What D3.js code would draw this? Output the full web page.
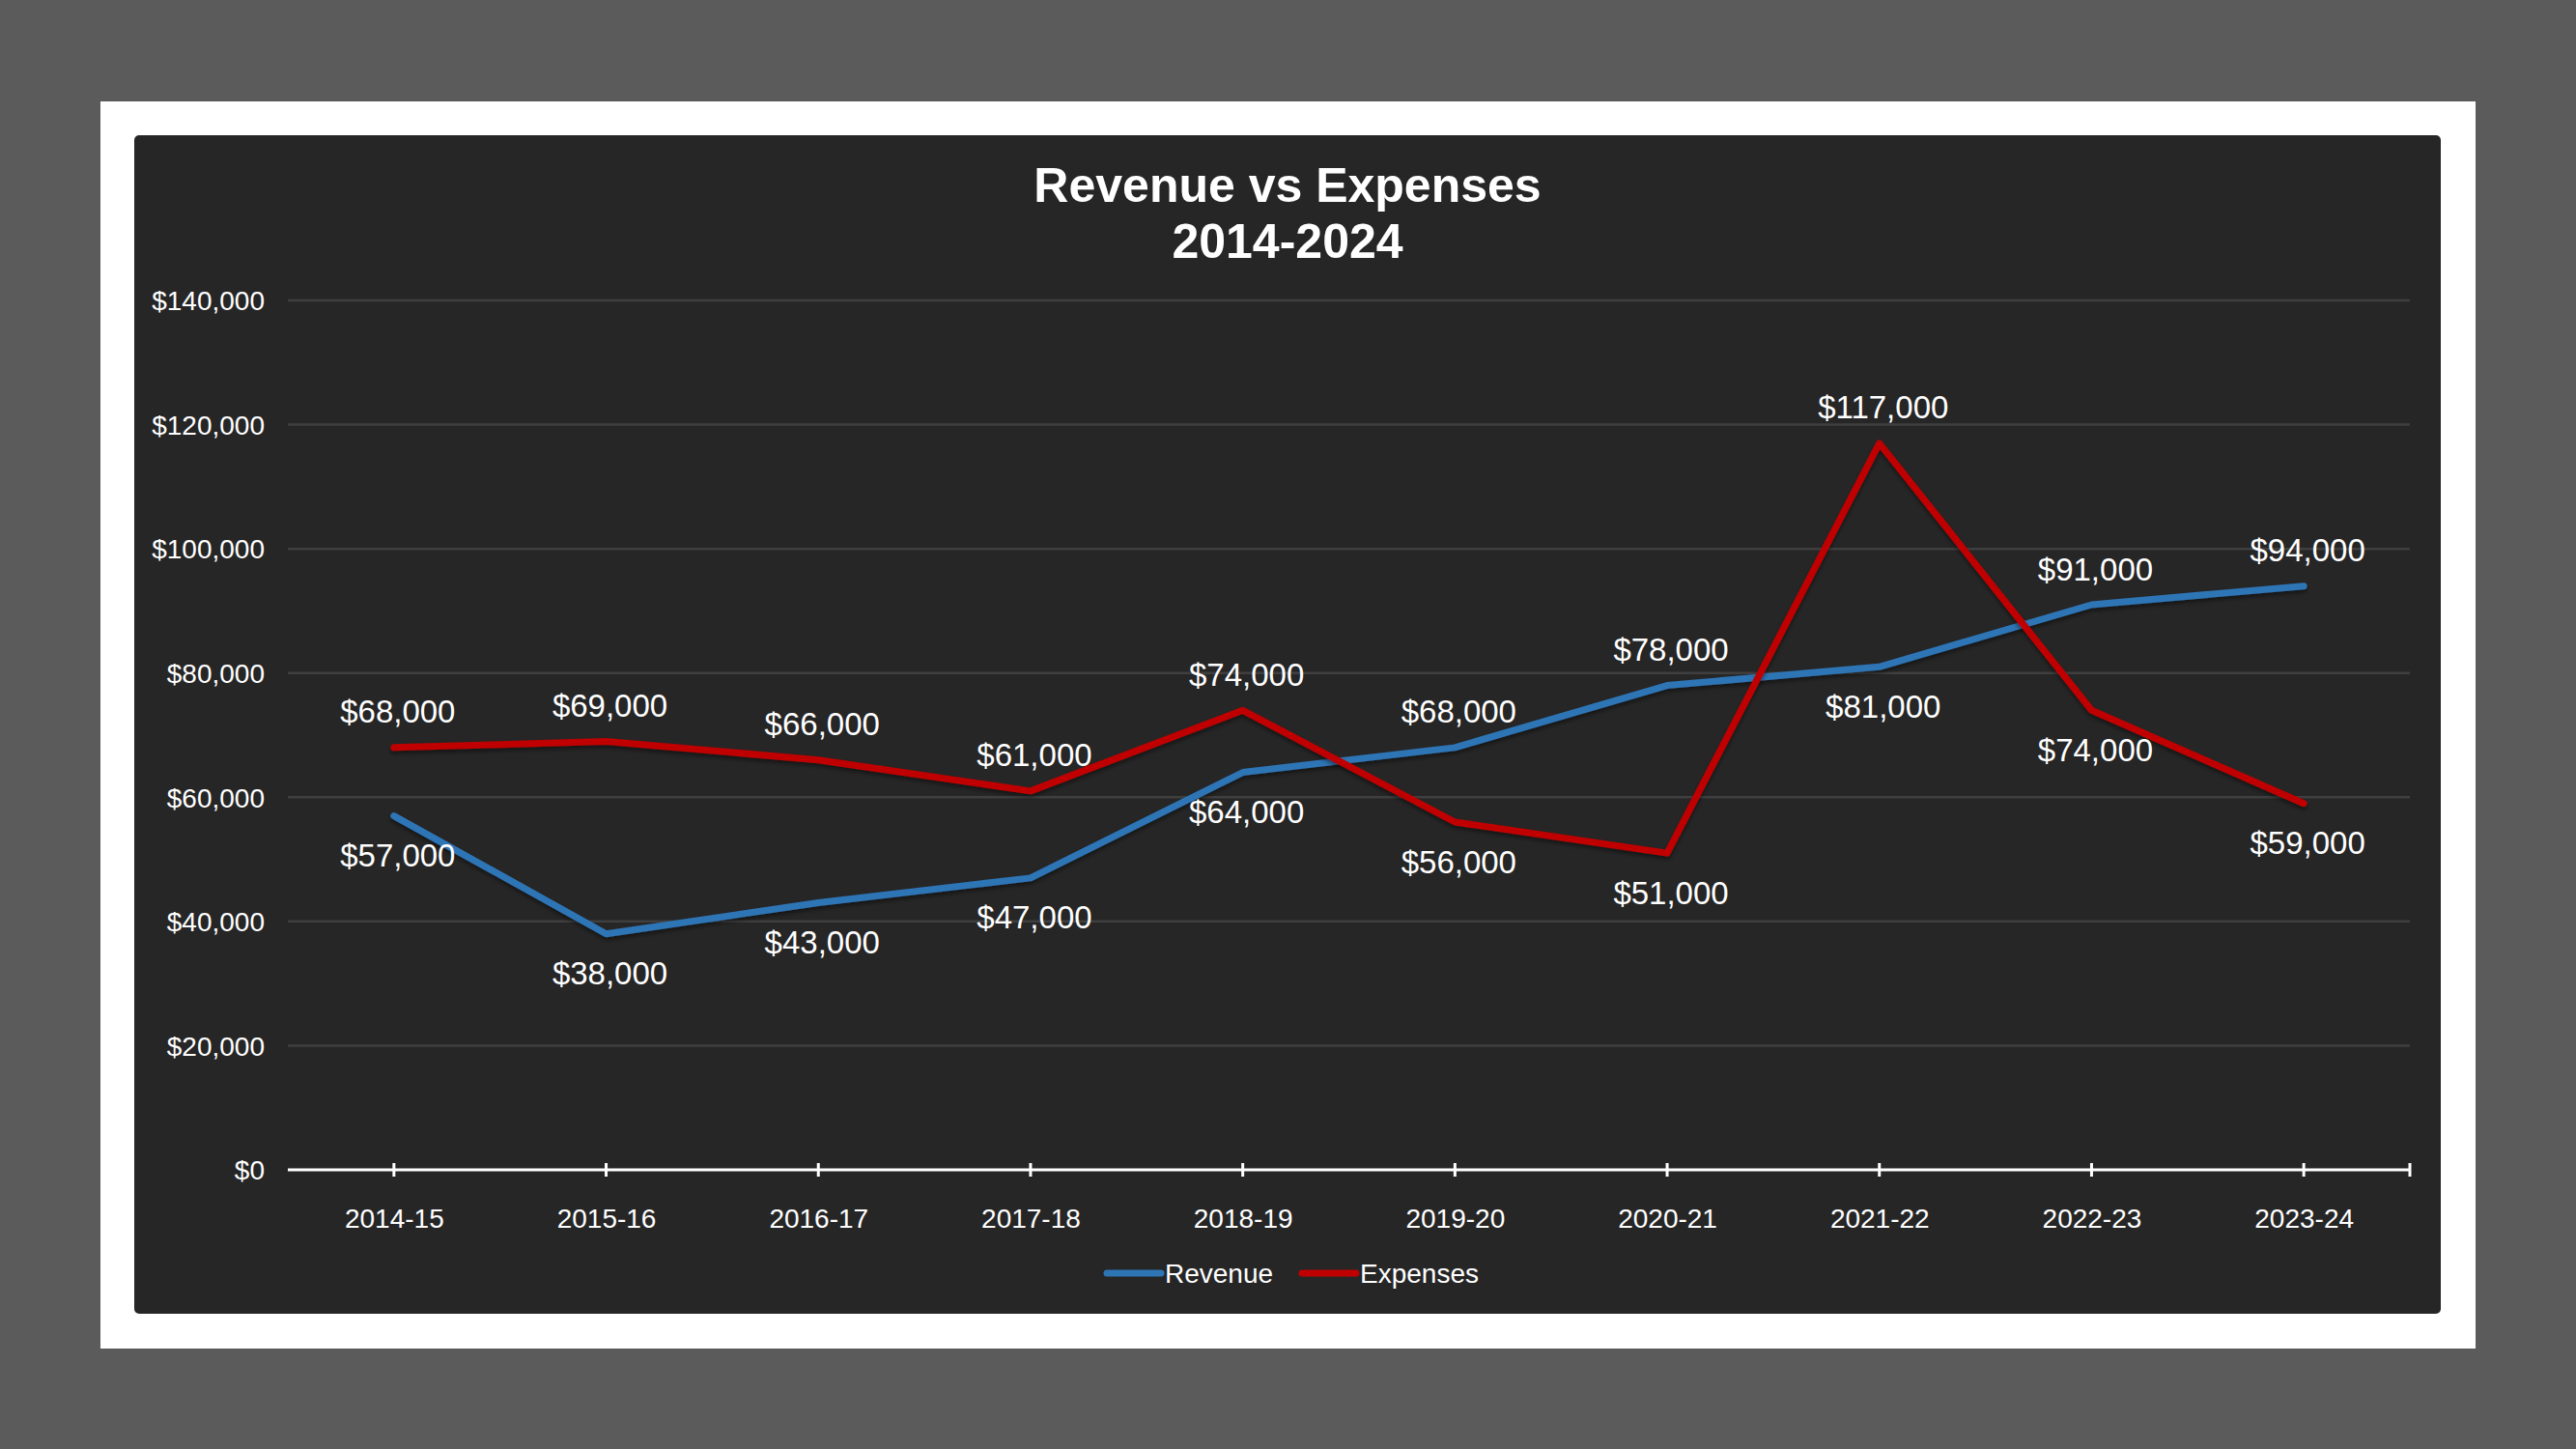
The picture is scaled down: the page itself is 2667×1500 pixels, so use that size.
<!DOCTYPE html>
<html><head><meta charset="utf-8">
<script src="https://cdn.jsdelivr.net/npm/d3@7"></script>
<style>
html,body{margin:0;padding:0;background:#5b5b5b;}
svg{display:block;font-family:"Liberation Sans",Arial,sans-serif;}
</style></head>
<body>
<svg id="c" width="2667" height="1500"></svg>
<script>
const categories = ["2014-15","2015-16","2016-17","2017-18","2018-19","2019-20","2020-21","2021-22","2022-23","2023-24"];
const revenue = [57000,38000,43000,47000,64000,68000,78000,81000,91000,94000];
const expenses = [68000,69000,66000,61000,74000,56000,51000,117000,74000,59000];
const yTicks = [0,20000,40000,60000,80000,100000,120000,140000];
const titleLines = ["Revenue vs Expenses","2014-2024"];
const seriesNames = ["Revenue","Expenses"];
const seriesColors = ["#2e75b6","#c00000"];

const svg = d3.select("#c");
svg.append("rect").attr("width",2667).attr("height",1500).attr("fill","#5b5b5b");
svg.append("rect").attr("x",104).attr("y",105).attr("width",2459).attr("height",1291).attr("fill","#ffffff");
svg.append("rect").attr("x",139).attr("y",140).attr("width",2388).attr("height",1220).attr("rx",5).attr("fill","#262626");

const defs = svg.append("defs");
const f = defs.append("filter").attr("id","sh").attr("x","-5%").attr("y","-5%").attr("width","110%").attr("height","120%");
f.append("feDropShadow").attr("dx",0).attr("dy",3).attr("stdDeviation",2).attr("flood-color","#000").attr("flood-opacity",0.45);

// title
svg.append("text").attr("x",1333).attr("text-anchor","middle").attr("fill","#fff")
  .attr("font-weight","bold").attr("font-size",50)
  .selectAll("tspan").data(titleLines).join("tspan")
  .attr("x",1333).attr("y",(d,i)=>209+i*58).text(d=>d);

const x0 = 298, x1 = 2495, yTop = 311, yBot = 1211;
const x = d3.scalePoint().domain(categories).range([x0,x1]).padding(0.5);
const y = d3.scaleLinear().domain([0,140000]).range([yBot,yTop]);
const fmt = v => "$" + d3.format(",")(v);

// gridlines
svg.append("g").selectAll("line").data(yTicks.filter(t=>t>0)).join("line")
  .attr("x1",x0).attr("x2",x1).attr("y1",d=>y(d)).attr("y2",d=>y(d))
  .attr("stroke","#3f3f3f").attr("stroke-width",2.5);

// y axis labels
const yAxis = d3.axisLeft(y).tickValues(yTicks).tickFormat(fmt).tickSize(0).tickPadding(0);
const gy = svg.append("g").attr("transform",`translate(274,0)`).call(yAxis);
gy.select(".domain").remove();
gy.selectAll("text").attr("fill","#ffffff").attr("font-size",28).attr("font-family","Liberation Sans, Arial, sans-serif").attr("dy","0.35em");

// x axis
const xAxis = d3.axisBottom(x).tickSize(0).tickPadding(0);
const gx = svg.append("g").attr("transform",`translate(0,${yBot})`).call(xAxis);
gx.select(".domain").remove();
gx.selectAll("text").attr("fill","#ffffff").attr("font-size",28).attr("font-family","Liberation Sans, Arial, sans-serif").attr("y",50).attr("dy","0.35em");
svg.append("line").attr("x1",x0).attr("x2",x1).attr("y1",yBot).attr("y2",yBot).attr("stroke","#ffffff").attr("stroke-width",3);
const tickXs = categories.map(c=>x(c)).concat([x1]);
svg.append("g").selectAll("line").data(tickXs).join("line")
  .attr("x1",d=>d).attr("x2",d=>d).attr("y1",yBot-7).attr("y2",yBot+7)
  .attr("stroke","#ffffff").attr("stroke-width",3);

// lines
const data = [revenue, expenses];
const line = d3.line().x((d,i)=>x(categories[i])).y(d=>y(d));
data.forEach((s,k)=>{
  svg.append("path").datum(s).attr("d",line).attr("fill","none")
    .attr("stroke",seriesColors[k]).attr("stroke-width",7)
    .attr("stroke-linejoin","round").attr("stroke-linecap","round").attr("filter","url(#sh)");
});

// data labels: above if the series is higher than the other, else below
data.forEach((s,k)=>{
  const other = data[1-k];
  svg.append("g").selectAll("text").data(s).join("text")
    .attr("x",(d,i)=>x(categories[i])+4)
    .attr("y",(d,i)=> y(d) + (d >= other[i] ? -37 : 41))
    .attr("dy","0.35em").attr("text-anchor","middle")
    .attr("fill","#ffffff").attr("font-size",33).text(fmt);
});

// legend
const legX = [1143,1345], legY = 1318;
seriesNames.forEach((n,k)=>{
  svg.append("line").attr("x1",legX[k]+3).attr("x2",legX[k]+59).attr("y1",legY).attr("y2",legY)
    .attr("stroke",seriesColors[k]).attr("stroke-width",7).attr("stroke-linecap","round");
  svg.append("text").attr("x",legX[k]+63).attr("y",legY).attr("dy","0.35em")
    .attr("fill","#ffffff").attr("font-size",28).text(n);
});
</script>
</body></html>
